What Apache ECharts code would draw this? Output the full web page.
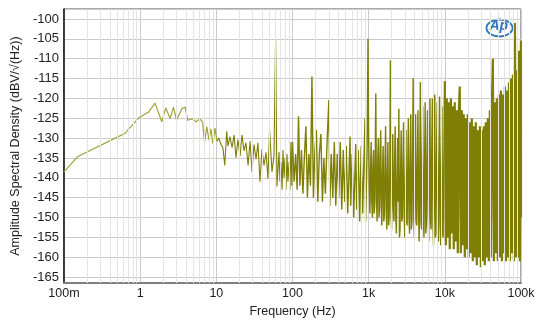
<!DOCTYPE html>
<html>
<head>
<meta charset="utf-8">
<script src="https://cdn.jsdelivr.net/npm/echarts@6/dist/echarts.min.js"></script>
<style>html,body{margin:0;padding:0;background:#fff}#c{width:544px;height:323px}</style>
</head>
<body>
<div id="c"></div>
<script>
// ---- data: [frequency (Hz), amplitude spectral density (dBV/√Hz)] ----
const bandLow = [[0.1,-138.5],[0.15,-134.7],[0.63,-128.8],[0.96,-124.9],[1.28,-123.5],[1.57,-121.2],[1.92,-125.9],[2.17,-122.4],[2.47,-125.1],[2.74,-122.2],[3.0,-125.5],[3.53,-122.6],[3.9,-122.2],[4.2,-125.5],[4.9,-125.1],[5.4,-125.9],[6.1,-125.2],[6.6,-126],[7.0,-131],[7.5,-127.1],[8.0,-130.5],[8.5,-127.7],[9.0,-131.4],[9.6,-127.5],[10.2,-130.8]];
const band10 = [[10.2,-130.8],[10.8,-130],[11.5,-131.6],[12.2,-132.4],[12.9,-136.9],[13.7,-128.3],[14.2,-132],[15.1,-129.6],[16.1,-132.4],[17.1,-129.2],[18.1,-134.9],[19.2,-130.4],[20.5,-134.5],[21.7,-129.2],[23.1,-133.2],[24.5,-131.2],[26.1,-136.9],[27.7,-130.8],[29.4,-138.5],[31.2,-131.6],[33.2,-135.3],[35.2,-131.2],[37.4,-141],[39.7,-132.8],[42.3,-136.9],[44.9,-133.6],[47.6,-140.2],[50,-127.9],[53.8,-138.5],[57.1,-134.5],[60,-105],[62.5,-142.2],[66.5,-133.5],[68.5,-141],[70.6,-136],[73,-143],[75,-133],[77.5,-140],[79.7,-135],[82,-143],[84.7,-134],[87,-141],[90,-136],[92.5,-143],[95.5,-131],[98,-142],[100,-131]];
const band100 = [[100,-131],[105,-141],[110,-134],[115,-143],[120,-124.5],[125,-142],[131,-133],[137,-144],[143,-135],[150,-127],[157,-145],[164,-134],[172,-142],[180,-114.5],[188,-145],[197,-133],[206,-128],[215,-146],[225,-134],[236,-129],[247,-146],[258,-135],[270,-144],[282,-133],[300,-120.4],[309,-147],[323,-134],[338,-145],[354,-131],[370,-147],[387,-134],[405,-145],[424,-131],[443,-148],[464,-133],[485,-146],[508,-132],[531,-149],[570,-129.6],[581,-147],[608,-134],[636,-150],[676,-131.5],[696,-148],[728,-133],[762,-151],[797,-132],[834,-149],[895,-125],[912,-151],[954,-133],[980,-105],[1000,-130]];
const band1k = [[1000,-130],[1020,-143],[1040,-149],[1060,-138],[1080,-131],[1100,-146],[1120,-150],[1140,-137],[1160,-133],[1180,-149],[1200,-147],[1220,-135],[1240,-118.8],[1265,-145],[1290,-151],[1315,-136],[1340,-130],[1365,-150],[1390,-148],[1415,-134],[1440,-128],[1465,-147],[1490,-152],[1520,-139],[1550,-132],[1580,-151],[1610,-149],[1640,-136],[1670,-127],[1700,-148],[1730,-153],[1760,-140],[1790,-131],[1825,-152],[1860,-150],[1895,-137],[1930,-110.4],[1965,-149],[2000,-153],[2035,-140],[2070,-129],[2110,-148],[2150,-151],[2190,-136],[2230,-127],[2270,-150],[2310,-154],[2355,-141],[2400,-130],[2445,-146],[2490,-122.6],[2535,-155],[2580,-153],[2625,-139],[2670,-128],[2720,-151],[2770,-150],[2820,-136],[2870,-126],[2925,-149],[2980,-155],[3035,-142],[3090,-127.9],[3145,-151],[3200,-152],[3260,-138],[3320,-125],[3380,-150],[3440,-154],[3505,-137],[3570,-124],[3635,-153],[3700,-151],[3770,-135],[3840,-114.9],[3910,-150],[3980,-155],[4055,-140],[4130,-124],[4205,-151],[4280,-152],[4360,-136],[4440,-123],[4520,-149],[4600,-156],[4685,-138],[4770,-115.9],[4860,-151],[4950,-153],[5040,-134],[5130,-122],[5225,-150],[5320,-155],[5420,-137],[5520,-121],[5620,-154],[5720,-152],[5825,-135],[5930,-123],[6040,-149],[6150,-156],[6265,-138],[6380,-120],[6495,-151],[6610,-153],[6735,-133],[6860,-120],[6985,-152],[7110,-157],[7240,-136],[7370,-119],[7505,-155],[7640,-154],[7785,-134],[7930,-121],[8075,-153],[8220,-156],[8370,-137],[8520,-119.5],[8680,-152],[8840,-157],[9000,-135],[9160,-122],[9330,-154],[9500,-155],[9675,-138],[9850,-121],[10000,-115.7]];
const band10k = [[10000,-115.7],[10300,-157],[10600,-120],[10900,-155],[11300,-121],[11600,-158],[12000,-120],[12300,-154],[12700,-122],[13100,-158],[13500,-121],[13900,-156],[14300,-123],[14800,-159],[15200,-124],[15700,-117],[16200,-159],[16700,-123],[17200,-157],[17700,-124],[18300,-160],[18800,-125],[19400,-158],[20000,-124],[20600,-160],[21200,-126],[21900,-159],[22600,-125],[23300,-161],[24000,-127],[24700,-160],[25500,-126],[26300,-162],[27100,-128],[27900,-160],[28800,-127],[29700,-162.5],[30600,-128],[31500,-161],[32500,-127],[33500,-162],[34500,-126],[35600,-160],[36700,-125],[37800,-161],[39000,-123],[40200,-160],[41400,-122],[42700,-110],[44000,-161],[45400,-121],[46800,-159],[48200,-120],[49700,-161],[51200,-119],[52800,-160],[54400,-118],[56100,-161],[57800,-119],[59600,-159],[61400,-117],[63300,-161],[65300,-118],[67300,-160],[69400,-116],[71500,-161],[73700,-115],[76000,-159],[78300,-114],[80700,-161],[83200,-101],[85800,-160],[88400,-113],[91100,-160],[93900,-108],[96800,-161],[99800,-105.5],[100000,-150]];
const xTickLabels = {0.1:'100m',1:'1',10:'10',100:'100',1000:'1k',10000:'10k',100000:'100k'};
const decadeStarts = [0.1, 1, 10, 100, 1000, 10000];
const minorSteps = [2,3,4,5,6,7,8,9];

const minorLines = [];
decadeStarts.forEach(d => minorSteps.forEach(m => minorLines.push({xAxis: +(d*m).toPrecision(3)})));

const chart = echarts.init(document.getElementById('c'), null, {renderer:'canvas'});
const FONT = '"Liberation Sans", Arial, sans-serif';
const OLIVE = '#7f7f05';
const lineSeries = (data, color, width) => ({type: 'line', z: 3, data, showSymbol: false, symbol: 'none', sampling: false,
  lineStyle: {color, width}, emphasis: {disabled: true}});
chart.setOption({
  animation: false,
  backgroundColor: '#ffffff',
  grid: {left: 64, top: 9, right: 23, bottom: 32, show: true, borderColor: '#555', borderWidth: 1, backgroundColor: 'transparent'},
  xAxis: {
    type: 'log', logBase: 10, min: 0.1, max: 100000, splitNumber: 6,
    axisLine: {show: true, onZero: false, lineStyle: {color: '#808080', width: 2}},
    axisTick: {show: false},
    axisLabel: {color: '#222', fontSize: 12.5, fontFamily: FONT, margin: 4,
      formatter: v => { const k = Object.keys(xTickLabels).find(t => Math.abs(Math.log10(+t) - Math.log10(v)) < 1e-6); return k ? xTickLabels[k] : ''; }},
    splitLine: {show: true, lineStyle: {color: '#cbcbcb', width: 1}},
    name: 'Frequency (Hz)', nameLocation: 'middle', nameGap: 21,
    nameTextStyle: {color: '#222', fontSize: 12.5, fontFamily: FONT}
  },
  yAxis: {
    type: 'value', min: -166.5, max: -97.5, splitNumber: 14,
    axisLine: {show: true, onZero: false, lineStyle: {color: '#111', width: 1.5}},
    axisTick: {show: false},
    axisLabel: {color: '#222', fontSize: 13, fontFamily: FONT, margin: 5,
      formatter: v => (Math.abs(v % 5) < 1e-6 ? String(Math.round(v)) : '')},
    splitLine: {show: true, lineStyle: {color: '#cbcbcb', width: 1}},
    name: 'Amplitude Spectral Density (dBV/√(Hz))', nameLocation: 'middle', nameGap: 41,
    nameTextStyle: {color: '#222', fontSize: 12.5, fontFamily: FONT}
  },
  series: [
    {type: 'line', z: 1, data: [], silent: true,
      markLine: {silent: true, symbol: 'none', animation: false, label: {show: false},
        lineStyle: {color: '#e4e4e4', type: 'solid', width: 1}, emphasis: {disabled: true}, data: minorLines}},
    lineSeries(bandLow, '#a3a33a', 1.2),
    lineSeries(band10, OLIVE, 1.1),
    lineSeries(band100, OLIVE, 1.4),
    lineSeries(band1k, OLIVE, 1.4),
    lineSeries(band10k, OLIVE, 2.2)
  ],
  graphic: [
    {type: 'group', left: 484, top: 17, children: [
      {type: 'ellipse', shape: {cx: 13, cy: 10, rx: 13, ry: 8.5}, style: {fill: 'none', stroke: '#2b72c0', lineWidth: 1.8}},
      {type: 'text', x: 3, y: 1, style: {text: 'Ap', font: 'italic bold 14px "Liberation Sans", Arial', fill: '#2b72c0'}}
    ]}
  ]
});
</script>
</body>
</html>
